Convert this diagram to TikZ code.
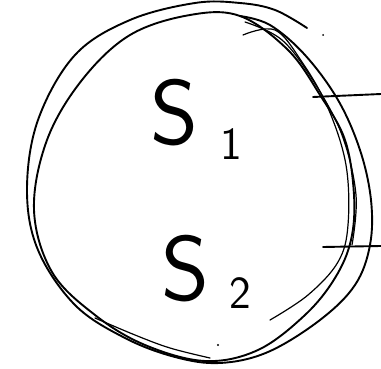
\documentclass[tikz,border=0pt]{standalone}
\usepackage{fontspec}
\setmainfont{DejaVu Sans}
\begin{document}
\begin{tikzpicture}[x=1pt,y=-1pt,
  stroke/.style={line width=1.9pt, line cap=round, line join=round},
  thin stroke/.style={line width=1.2pt, line cap=round, line join=round},
  lbl/.style={font=\fontsize{92}{94}\selectfont\sffamily, inner sep=0pt},
  sub/.style={font=\fontsize{46}{48}\selectfont\sffamily, inner sep=0pt}]
\useasboundingbox (0,0) rectangle (381,369);
% outer loop
\draw[stroke] plot[smooth, tension=0.6] coordinates {(307,28) (275,10) (240,3) (195,3) (130,20) (75,55) (38,120) (27,190) (38,250) (75,305) (125,338) (175,357) (220,363) (268,352) (320,320) (355,285) (370,245) (371,200) (360,150) (338,100) (305,55) (270,25) (240,16)};
% inner loop
\draw[stroke] plot[smooth cycle, tension=0.6] coordinates {(240,16) (190,15) (130,35) (82,80) (47,140) (34,210) (52,272) (95,315) (145,345) (205,361) (258,350) (305,315) (335,278) (351,240) (354,195) (345,140) (320,95) (288,50)};
% right-hand extra strokes
\draw[thin stroke] plot[smooth, tension=0.6] coordinates {(243,35) (275,30) (302,62) (328,108) (346,165) (348,225) (338,262) (308,295) (270,320)};
\draw[thin stroke] plot[smooth, tension=0.6] coordinates {(245,22) (282,40) (314,82) (342,135) (356,195) (352,245)};
\draw[thin stroke] plot[smooth, tension=0.6] coordinates {(95,318) (135,335) (170,348) (210,358)};
% side lines
\coordinate (a1) at (313,97);
\coordinate (b1) at (381,94);
\coordinate (a2) at (323,247);
\coordinate (b2) at (381,246);
\draw[stroke] (a1) -- (b1);
\draw[stroke] (a2) -- (b2);
% labels
\node[lbl] (s1) at (175,113) {S};
\node[sub] (one) at (231,144) {1};
\node[lbl] (s2) at (186,269) {S};
\node[sub] (two) at (240,293) {2};
% small dots
\fill (323,35) circle (1pt);
\fill (218,345) circle (1.2pt);
\end{tikzpicture}
\end{document}
